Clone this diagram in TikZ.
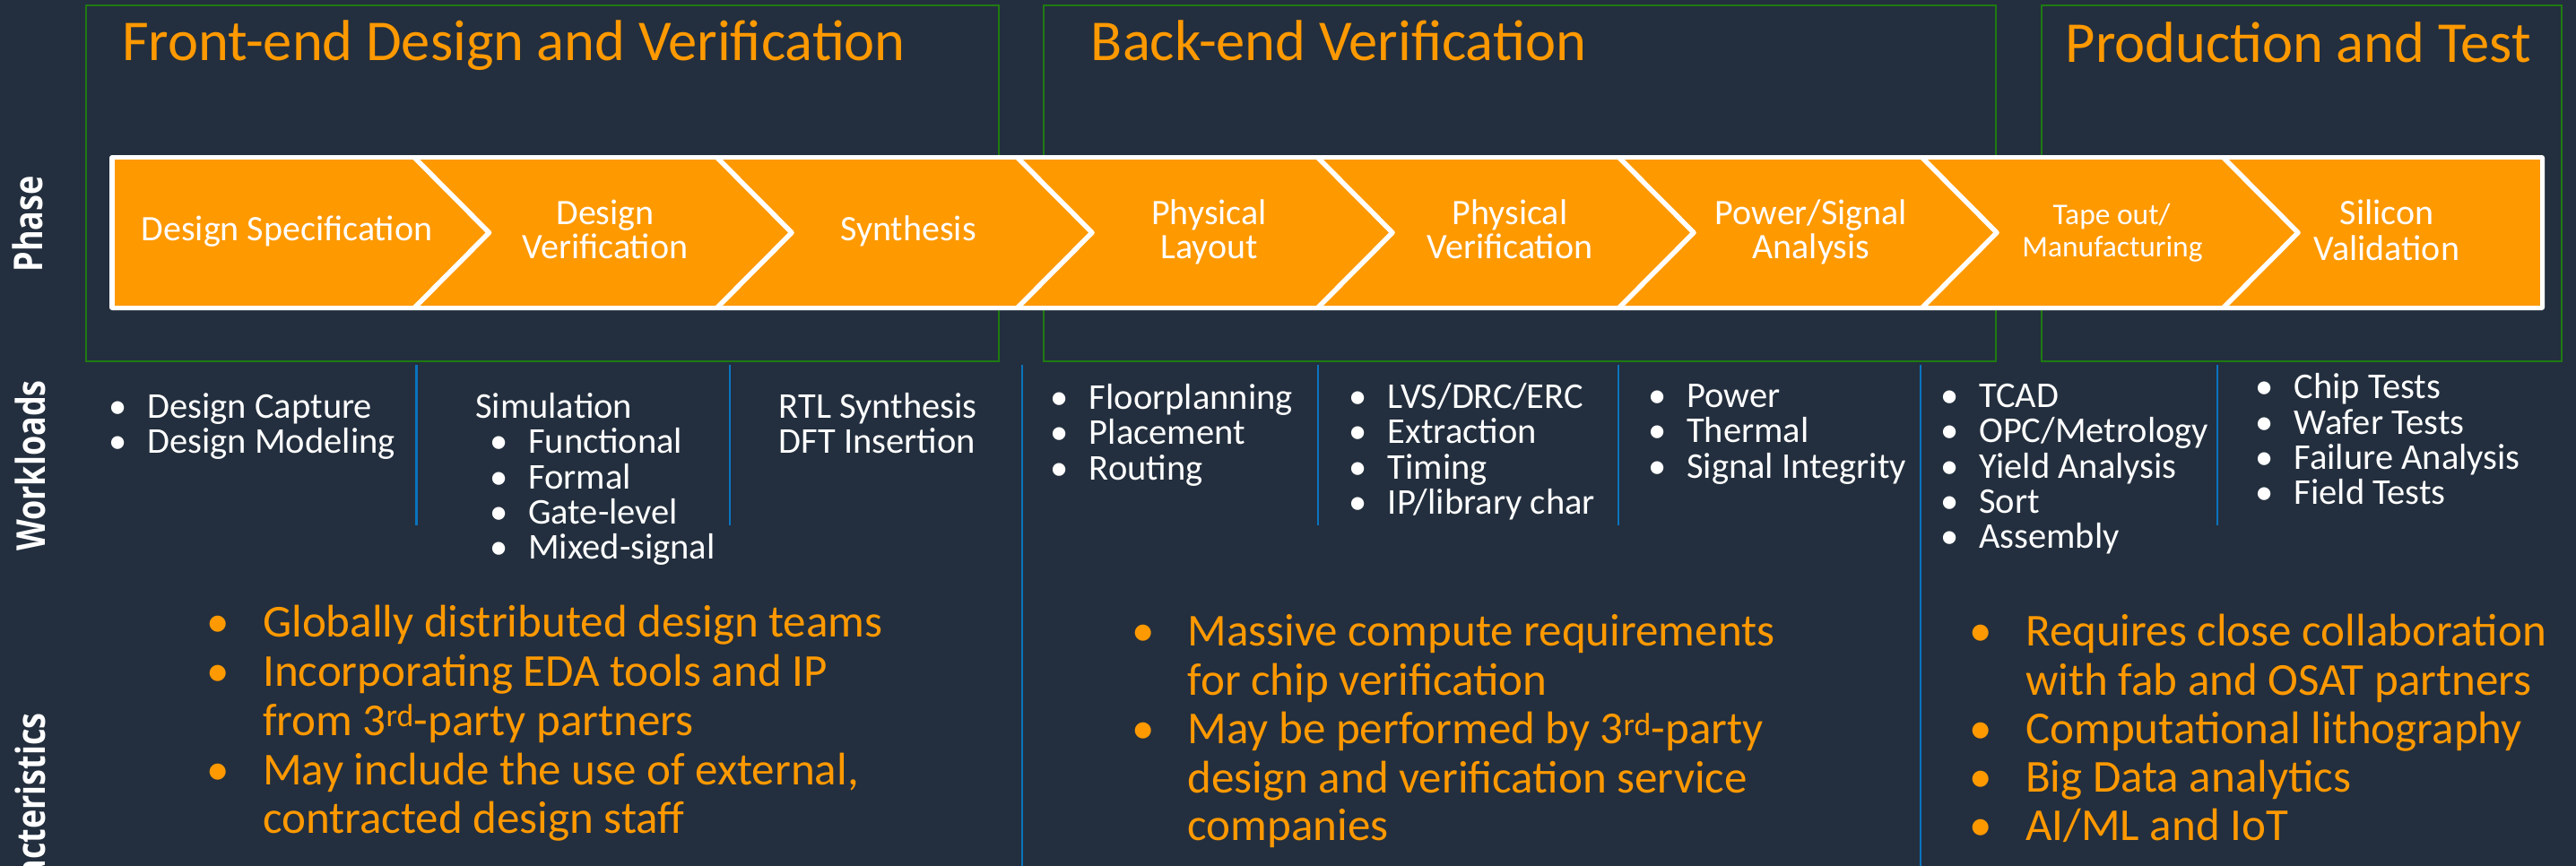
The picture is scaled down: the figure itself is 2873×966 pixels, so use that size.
\documentclass[tikz,border=0pt]{standalone}
\usepackage{fontspec}
\setmainfont{Carlito}
\newfontfamily\labelfont{Open Sans}

\definecolor{ink}{HTML}{232F3E}
\definecolor{amz}{HTML}{FF9900}
\definecolor{boxgreen}{HTML}{1F7A12}
\definecolor{divblue}{HTML}{0A74C0}

\tikzset{
  phasebox/.style={draw=boxgreen, line width=2.5pt},
  divider/.style={draw=divblue, line width=2.5pt},
  sepline/.style={draw=white, line width=5.5pt, line join=round},
  title/.style={anchor=base west, inner sep=0pt, text=amz, font=\fontsize{64.5}{70}\selectfont},
  chev/.style={anchor=base, inner sep=0pt, text=white, font=\fontsize{40}{44}\selectfont},
  chevsmall/.style={anchor=base, inner sep=0pt, text=white, font=\fontsize{33.5}{36}\selectfont},
  wl/.style={anchor=base west, inner sep=0pt, text=white, font=\fontsize{40.5}{44}\selectfont},
  ch/.style={anchor=base west, inner sep=0pt, text=amz, font=\fontsize{51}{55}\selectfont},
  rowlabel/.style={rotate=90, inner sep=0pt, text=white, font=\labelfont\bfseries\fontsize{36}{36}\selectfont},
}
\newcommand\wbul{\llap{\makebox[0pt][c]{•}\hspace{33pt}}}
\newcommand\cbul{\llap{\makebox[0pt][c]{•}\hspace{50pt}}}

\begin{document}
\begin{tikzpicture}[x=1pt,y=-1pt]
\useasboundingbox (0,0) rectangle (2873,966);
\clip (0,0) rectangle (2873,966);
\fill[ink] (0,0) rectangle (2873,966);

% stage frames
\draw[phasebox] (96,6) rectangle (1114,403);
\draw[phasebox] (1164,6) rectangle (2226,403);
\draw[phasebox] (2277,6) rectangle (2857,403);

% column dividers
\foreach \x in {464.5,814,1470,1805,2473}
  \draw[divider] (\x,407) -- (\x,586);
\foreach \x in {1140,2142}
  \draw[divider] (\x,407) -- (\x,966);

% chevron band
\fill[white, rounded corners=3pt] (122,173) rectangle (2838,346);
\fill[amz] (128,178) rectangle (2833,341);
\foreach \x in {464.5,802,1137,1472,1808,2146,2482}
  \draw[sepline] (\x-3,175) -- (\x+81,259.5) -- (\x-3,344);

% stage titles
\node[title] (t1) at (136,68) {Front-end Design and Verification};
\node[title] (t2) at (1216.7,67) {Back-end Verification};
\node[title] (t3) at (2303.5,70) {Production and Test};

% phase steps
\node[chev] (p1) at (320,268) {Design Specification};
\node[chev] (p2a) at (675,250) {Design};
\node[chev] (p2b) at (675,288) {Verification};
\node[chev] (p3) at (1013,268) {Synthesis};
\node[chev] (p4a) at (1348.5,250) {Physical};
\node[chev] (p4b) at (1348.5,288) {Layout};
\node[chev] (p5a) at (1684,250) {Physical};
\node[chev] (p5b) at (1684,288) {Verification};
\node[chev] (p6a) at (2020,250) {Power/Signal};
\node[chev] (p6b) at (2020,288) {Analysis};
\node[chevsmall] (p7a) at (2355,250) {Tape out/};
\node[chevsmall] (p7b) at (2356,286) {Manufacturing};
\node[chev] (p8a) at (2662,250.5) {Silicon};
\node[chev] (p8b) at (2662,290) {Validation};

% row labels
\node[rowlabel] (lphase) at (31,250) {\scalebox{1}[1.23]{Phase}};
\node[rowlabel] (lwork) at (34,519.5) {\scalebox{1}[1.23]{Workloads}};
\node[rowlabel, anchor=east] (lchar) at (34,795) {\scalebox{1}[1.23]{Characteristics}};

% workloads
\node[wl] (wa1) at (164.5,466.7) {\wbul Design Capture};
\node[wl] (wa2) at (164.5,505.7) {\wbul Design Modeling};
\node[wl] (wb0) at (530,466) {Simulation};
\node[wl] (wb1) at (589,505.7) {\wbul Functional};
\node[wl] (wb2) at (589,545) {\wbul Formal};
\node[wl] (wb3) at (589,584) {\wbul Gate-level};
\node[wl] (wb4) at (589,623.3) {\wbul Mixed-signal};
\node[wl] (wc1) at (868.5,466) {RTL Synthesis};
\node[wl] (wc2) at (868.5,505.7) {DFT Insertion};
\node[wl] (wd1) at (1214.8,456.7) {\wbul Floorplanning};
\node[wl] (wd2) at (1214.8,495.7) {\wbul Placement};
\node[wl] (wd3) at (1214.8,535) {\wbul Routing};
\node[wl] (we1) at (1547.7,455) {\wbul LVS/DRC/ERC};
\node[wl] (we2) at (1547.7,494) {\wbul Extraction};
\node[wl] (we3) at (1547.7,534) {\wbul Timing};
\node[wl] (we4) at (1547.7,573.3) {\wbul IP/library char};
\node[wl] (wf1) at (1881,454) {\wbul Power};
\node[wl] (wf2) at (1881,493.3) {\wbul Thermal};
\node[wl] (wf3) at (1881,533.3) {\wbul Signal Integrity};
\node[wl] (wg1) at (2207,454) {\wbul TCAD};
\node[wl] (wg2) at (2207,493.3) {\wbul OPC/Metrology};
\node[wl] (wg3) at (2207,533.3) {\wbul Yield Analysis};
\node[wl] (wg4) at (2207,572.7) {\wbul Sort};
\node[wl] (wg5) at (2207,611) {\wbul Assembly};
\node[wl] (wh1) at (2558.5,444) {\wbul Chip Tests};
\node[wl] (wh2) at (2558.5,484) {\wbul Wafer Tests};
\node[wl] (wh3) at (2558.5,523.3) {\wbul Failure Analysis};
\node[wl] (wh4) at (2558.5,562.7) {\wbul Field Tests};

% characteristics
\node[ch] (ca1) at (293,710) {\cbul Globally distributed design teams};
\node[ch] (ca2) at (293,765) {\cbul Incorporating EDA tools and IP};
\node[ch] (ca3) at (293,820) {from 3\textsuperscript{rd}-party partners};
\node[ch] (ca4) at (293,875) {\cbul May include the use of external,};
\node[ch] (ca5) at (293,929) {contracted design staff};
\node[ch] (cb1) at (1324.5,720) {\cbul Massive compute requirements};
\node[ch] (cb2) at (1324.5,775) {for chip verification};
\node[ch] (cb3) at (1324.5,829.3) {\cbul May be performed by 3\textsuperscript{rd}-party};
\node[ch] (cb4) at (1324.5,884) {design and verification service};
\node[ch] (cb5) at (1324.5,937.7) {companies};
\node[ch] (cc1) at (2259,720) {\cbul Requires close collaboration};
\node[ch] (cc2) at (2259,775) {with fab and OSAT partners};
\node[ch] (cc3) at (2259,829.3) {\cbul Computational lithography};
\node[ch] (cc4) at (2259,883.3) {\cbul Big Data analytics};
\node[ch] (cc5) at (2259,937.7) {\cbul AI/ML and IoT};
\end{tikzpicture}
\end{document}
